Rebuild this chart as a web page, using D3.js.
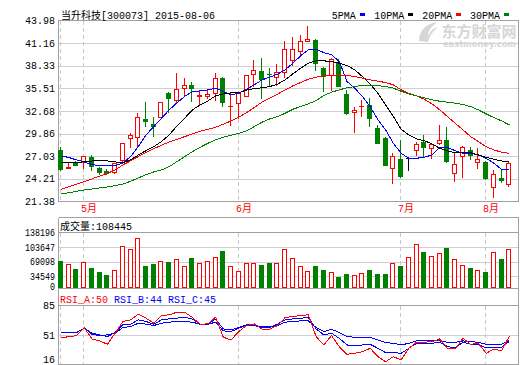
<!DOCTYPE html>
<html>
<head>
<meta charset="utf-8">
<script src="https://cdn.jsdelivr.net/npm/d3@7"></script>
<style>
  body { margin: 0; background: #fff; }
  svg { display: block; }
  text { font-family: "Liberation Mono", "Noto Sans CJK SC", monospace; font-size: 10px; }
  line, rect, path.ln { shape-rendering: crispEdges; }
</style>
</head>
<body>
<div id="chart"></div>
<script>
// trading days shown (300073, up to 2015-08-06)
const dates = [
  "2015-04-28","2015-04-29","2015-04-30",
  "2015-05-04","2015-05-05","2015-05-06","2015-05-07","2015-05-08",
  "2015-05-11","2015-05-12","2015-05-13","2015-05-14","2015-05-15",
  "2015-05-18","2015-05-19","2015-05-20","2015-05-21","2015-05-22",
  "2015-05-25","2015-05-26","2015-05-27","2015-05-28","2015-05-29",
  "2015-06-01","2015-06-02","2015-06-03","2015-06-04","2015-06-05",
  "2015-06-08","2015-06-09","2015-06-10","2015-06-11","2015-06-12",
  "2015-06-15","2015-06-16","2015-06-17","2015-06-18","2015-06-19",
  "2015-06-23","2015-06-24","2015-06-25","2015-06-26","2015-06-29","2015-06-30",
  "2015-07-01","2015-07-02","2015-07-03","2015-07-06","2015-07-07",
  "2015-07-24","2015-07-27","2015-07-28","2015-07-29","2015-07-30","2015-07-31",
  "2015-08-03","2015-08-04","2015-08-05","2015-08-06"
];
const open = [27.82,25.62,26.28,26.36,26.98,25.57,25.16,25.07,26.57,29.28,
  29.40,31.66,31.07,31.98,34.90,34.07,35.61,35.94,34.60,34.60,
  34.90,36.78,33.30,33.65,34.57,37.28,37.69,37.30,36.90,37.53,
  39.07,40.23,41.48,41.57,38.03,37.19,38.65,34.82,32.53,33.30,
  33.44,30.53,29.36,25.53,26.65,26.85,27.82,28.86,28.03,28.65,
  29.07,24.90,27.07,27.82,26.28,26.36,23.23,24.32,23.53];
const high = [28.23,26.25,26.40,27.10,27.23,25.73,25.48,26.23,28.70,29.90,
  32.40,33.86,31.91,33.80,35.10,37.40,36.78,36.35,35.30,35.40,
  37.40,36.98,35.11,34.95,37.20,39.07,39.36,38.03,38.57,41.48,
  41.90,42.11,43.32,41.65,38.23,39.28,39.15,35.32,33.15,34.07,
  34.28,30.94,29.48,27.40,29.07,26.85,28.86,29.69,28.73,30.94,
  30.73,27.40,28.32,28.23,28.11,26.40,25.32,25.32,26.36];
const low = [25.32,25.58,25.90,25.53,25.36,24.82,24.78,24.98,26.36,28.23,
  28.32,30.82,29.61,31.95,32.61,33.86,34.69,33.90,33.44,34.36,
  34.07,33.32,30.94,31.78,34.50,35.82,34.28,35.94,35.94,36.98,
  38.44,39.69,41.40,37.82,35.23,35.32,35.82,32.32,30.10,32.11,
  30.82,28.70,25.90,23.65,24.48,25.32,27.19,27.07,26.85,28.57,
  26.36,23.98,24.48,26.65,25.61,24.23,21.90,23.78,23.36];
const close = [25.44,25.66,25.98,27.07,25.82,25.07,24.90,26.16,28.66,29.69,
  31.98,31.41,30.82,33.78,34.36,35.44,35.90,35.53,34.70,34.75,
  36.78,33.86,33.34,34.90,37.19,37.82,36.69,37.26,37.60,40.40,
  40.40,41.36,41.65,38.65,37.11,39.15,35.86,32.48,32.82,33.36,
  31.78,28.73,25.94,27.07,24.57,26.85,28.53,28.23,28.53,29.07,
  26.48,26.07,28.15,27.19,26.69,24.28,24.82,24.07,26.23];
const volume = [70630,62830,51730,67560,54090,44640,37560,48660,105350,98970,
  124250,58820,63540,71330,68260,74640,58110,77710,65190,71330,
  79370,94250,58110,46300,65190,65190,61180,65900,65190,98260,
  77000,58820,46300,58820,49370,43930,33540,39920,37560,41570,
  49370,39920,39920,65190,58820,80070,110070,91880,82430,88810,
  101330,74640,60470,54090,48660,44640,91170,75350,98260];
const lastVolume = 108445;

const ma5 = [27.07,26.88,26.57,26.32,26.00,25.86,25.86,25.86,26.19,26.98,
  28.23,29.69,30.73,31.78,32.82,33.70,34.50,35.11,35.19,35.32,
  35.53,35.11,34.69,34.90,35.40,35.94,36.57,36.90,37.28,37.82,
  38.65,39.57,40.32,40.40,39.98,39.69,38.86,36.36,35.53,34.48,
  33.23,31.57,30.32,28.65,27.40,26.78,26.78,26.90,27.19,28.15,
  28.11,27.73,27.40,27.40,27.19,26.78,26.15,25.40,25.32];
const ma10 = [26.28,26.28,26.28,26.32,26.44,26.48,26.44,26.32,26.23,26.57,
  27.19,27.73,28.23,28.86,29.69,30.82,31.78,32.82,33.44,33.94,
  34.57,34.82,34.94,34.98,35.28,35.48,35.57,35.73,36.03,36.57,
  37.32,38.03,38.65,38.94,38.94,38.86,38.65,38.36,37.82,36.98,
  36.03,34.90,33.44,31.98,30.40,29.69,29.19,28.98,28.57,28.03,
  27.69,27.48,27.48,27.48,27.19,26.90,26.65,26.44,26.36];
const ma20 = [22.90,23.23,23.53,23.86,24.20,24.55,24.90,25.30,25.95,26.45,
  27.00,27.48,27.98,28.40,28.82,29.15,29.48,29.82,30.15,30.40,
  30.65,31.03,31.44,31.90,32.48,33.11,33.78,34.28,34.78,35.32,
  35.82,36.23,36.65,36.90,37.07,37.15,37.19,37.11,36.98,36.78,
  36.57,36.40,36.23,35.94,35.32,34.90,34.57,34.15,33.57,32.82,
  31.98,31.15,30.32,29.48,28.86,28.23,27.82,27.53,27.40];
const ma30 = [22.32,22.48,22.65,22.82,22.94,23.07,23.19,23.36,23.57,23.90,
  24.32,24.73,25.07,25.32,25.73,26.36,26.98,27.61,28.15,28.65,
  29.07,29.40,29.65,29.90,30.19,30.73,31.28,31.69,31.98,32.40,
  32.90,33.23,33.57,33.98,34.61,35.03,35.32,35.57,35.73,35.90,
  35.90,35.86,35.73,35.53,35.15,34.82,34.57,34.32,34.07,33.90,
  33.78,33.65,33.48,33.23,32.82,32.32,31.86,31.44,30.94];

const rsiA = [48.67,49.05,50.58,59.77,46.75,44.45,40.63,53.26,66.66,68.57,
  75.08,70.49,64.74,73.55,74.32,77.38,77.38,71.26,63.60,63.98,
  71.64,48.67,45.60,55.18,62.07,63.98,57.86,57.86,62.07,71.26,
  72.41,73.55,74.32,49.43,39.86,50.58,37.94,29.14,30.29,32.20,
  36.03,26.46,20.71,26.46,22.63,36.03,42.92,42.92,43.69,46.75,
  36.03,35.26,47.52,40.63,41.77,30.29,35.26,32.96,50];
const rsiB = [54.41,54.41,54.02,59.00,53.26,51.35,49.43,54.02,62.83,63.60,
  68.57,66.66,63.60,68.57,69.72,70.49,71.64,69.34,63.60,63.60,
  69.34,58.24,57.09,59.77,62.83,62.83,59.77,59.77,63.60,68.57,
  69.72,70.49,71.26,58.24,51.35,53.26,47.52,39.86,38.71,39.86,
  40.63,36.03,31.05,31.05,30.29,36.03,41.77,41.77,41.77,42.92,
  37.94,36.79,42.92,40.63,39.86,36.79,36.79,37.17,44];
const rsiC = [54.41,54.41,54.41,59.00,52.11,50.58,51.35,53.26,59.77,60.92,
  64.74,63.60,62.07,64.74,65.90,66.66,66.66,65.90,63.60,63.60,
  65.90,55.94,55.18,59.00,62.07,61.69,60.92,60.92,62.07,65.90,
  66.66,67.43,67.43,59.77,55.18,57.86,54.03,49.43,48.67,48.67,
  48.67,45.60,42.54,41.77,39.86,41.77,44.45,44.45,44.45,44.45,
  42.92,42.92,44.45,43.69,42.92,40.63,40.63,40.63,45];

const priceTicks = [43.98, 41.16, 38.33, 35.51, 32.68, 29.86, 27.03, 24.21, 21.38];
const volTicks = [138196, 103647, 69098, 34549, 0];
const rsiTicks = [85, 51, 16];

const maNames = ["5PMA", "10PMA", "20PMA", "30PMA"];
const maColors = ["#0000ff", "#000000", "#ff0000", "#008000"];
const RED = "#ff0000", GREEN = "#008000", BLUE = "#0000ff";
const BORDER = "#a0a0a0", GRID = "#cfcfcf";

// layout
const W = 520, H = 365;
const left = 58.5, right = 518.5;
const mainTop = 20.5, mainBottom = 201.5;
const volTop = 217.5, volGridTop = 232.5, volBottom = 288.5;
const rsiTop = 305.5, rsiBottom = 364.5;

const svg = d3.select("#chart").append("svg")
  .attr("width", W).attr("height", H);

const x = d3.scaleBand().domain(dates)
  .range([57.13, 513.2]).paddingInner(0.3).paddingOuter(0.15);
const cx = d => Math.round(x(d) + x.bandwidth() / 2);

const y = d3.scaleLinear().domain([21.38, 43.98]).range([mainBottom, mainTop]);
const yv = d3.scaleLinear().domain([0, 138196]).range([290.9, volGridTop]);
const yr = d3.scaleLinear().domain([16, 85]).range([365.8, rsiTop]);
const px = v => Math.round(v) + 0.5;

// month separators
const monthStarts = dates.map((d, i) => ({ d, i }))
  .filter(o => o.i === 0 || o.d.slice(5, 7) !== dates[o.i - 1].slice(5, 7));

const grid = svg.append("g");

// horizontal grid lines
grid.selectAll(".pg").data(priceTicks.slice(1, -1)).enter().append("line")
  .attr("x1", left).attr("x2", right)
  .attr("y1", d => px(y(d))).attr("y2", d => px(y(d)))
  .attr("stroke", GRID);
grid.selectAll(".vg").data(volTicks.slice(1, -1)).enter().append("line")
  .attr("x1", left).attr("x2", right)
  .attr("y1", d => px(yv(d))).attr("y2", d => px(yv(d)))
  .attr("stroke", GRID);
grid.append("line").attr("x1", left).attr("x2", right)
  .attr("y1", px(yr(51))).attr("y2", px(yr(51))).attr("stroke", GRID);

// dashed month lines
[[mainTop, mainBottom], [volGridTop, volBottom], [rsiTop, rsiBottom]].forEach(([a, b]) => {
  grid.selectAll(null).data(monthStarts).enter().append("line")
    .attr("x1", d => cx(d.d) - 0.5).attr("x2", d => cx(d.d) - 0.5)
    .attr("y1", a).attr("y2", b)
    .attr("stroke", "#c8c8c8").attr("stroke-dasharray", "4,3");
});

// watermark
const wm = svg.append("g").attr("fill", "#d6d6d6");
wm.append("path")
  .attr("d", "M419,41 C419,31 426,23 438,22 C431,26 428,31 428,36 C431,30 434,28 438,27 C432,32 429,37 428,42 Z");
wm.append("text").attr("x", 441.5).attr("y", 37)
  .attr("textLength", 75).attr("lengthAdjust", "spacingAndGlyphs")
  .style("font-family", "'Noto Sans CJK SC'").style("font-size", "15px").style("font-weight", "bold")
  .text("东方财富网");
wm.append("text").attr("x", 443).attr("y", 46.5)
  .attr("textLength", 73).attr("lengthAdjust", "spacingAndGlyphs")
  .style("font-family", "'DejaVu Sans'").style("font-size", "8px").style("font-weight", "bold")
  .text("eastmoney.com");

// borders
const border = svg.append("g").attr("stroke", BORDER).attr("fill", "none");
border.append("rect").attr("x", left).attr("y", mainTop)
  .attr("width", right - left).attr("height", mainBottom - mainTop);
border.append("path").attr("class", "ln")
  .attr("d", `M${left},${volTop}H${right}M${left},${volGridTop}H${right}M${left},${volBottom}H${right}` +
    `M${left},${rsiTop}H${right}M${left},${rsiBottom}H${right}` +
    `M${left},${volTop}V${rsiBottom}M${right},${volTop}V${rsiBottom}`);

// candles
const cols = dates.map((d, i) => close[i] > open[i] ? RED : close[i] < open[i] ? GREEN : "#000000");
const candles = svg.append("g").selectAll("g").data(dates).enter().append("g");
candles.append("line")
  .attr("x1", d => cx(d) - 0.5).attr("x2", d => cx(d) - 0.5)
  .attr("y1", (d, i) => px(y(high[i])) - 0.5).attr("y2", (d, i) => px(y(low[i])) + 0.5)
  .attr("stroke", (d, i) => cols[i]);
candles.each(function (d, i) {
  const g = d3.select(this);
  const yo = px(y(open[i])), yc = px(y(close[i]));
  const top = Math.min(yo, yc), h = Math.abs(yo - yc);
  if (h < 1) {
    g.append("line").attr("x1", cx(d) - 3).attr("x2", cx(d) + 2)
      .attr("y1", top).attr("y2", top).attr("stroke", cols[i]);
  } else {
    g.append("rect").attr("x", cx(d) - 2.5).attr("y", top)
      .attr("width", 4).attr("height", h)
      .attr("fill", cols[i] === RED ? "#fff" : cols[i])
      .attr("stroke", cols[i]);
  }
});

// moving averages
const line = d3.line().x((v, i) => x(dates[i]) + x.bandwidth() / 2);
[ma5, ma10, ma20, ma30].forEach((s, k) => {
  svg.append("path").datum(s).attr("class", "ln")
    .attr("d", line.y(v => y(v)))
    .attr("fill", "none").attr("stroke", maColors[k]).attr("stroke-width", 1);
});

// volume bars
svg.append("g").selectAll("rect").data(dates).enter().append("rect")
  .attr("x", d => cx(d) - 2.5)
  .attr("y", (d, i) => px(yv(volume[i])))
  .attr("width", 4)
  .attr("height", (d, i) => volBottom - 1 - px(yv(volume[i])))
  .attr("fill", (d, i) => close[i] >= open[i] ? "#fff" : GREEN)
  .attr("stroke", (d, i) => close[i] >= open[i] ? RED : GREEN);

// RSI lines
[[rsiC, BLUE], [rsiB, BLUE], [rsiA, RED]].forEach(([s, c]) => {
  svg.append("path").datum(s).attr("class", "ln")
    .attr("d", line.y(v => yr(v)))
    .attr("fill", "none").attr("stroke", c).attr("stroke-width", 1);
});

// axis labels
const labels = svg.append("g").attr("text-anchor", "end").attr("fill", "#000");
labels.selectAll(".pl").data(priceTicks).enter().append("text")
  .attr("x", 55).attr("y", d => y(d) + 1).attr("dominant-baseline", "middle")
  .text(d => d.toFixed(2));
labels.selectAll(".vl").data(volTicks).enter().append("text")
  .attr("x", 55).attr("y", d => Math.min(yv(d), 286.5) + 1).attr("dominant-baseline", "middle")
  .attr("textLength", d => String(d).length * 5).attr("lengthAdjust", "spacingAndGlyphs")
  .text(d => d);
labels.selectAll(".rl").data(rsiTicks).enter().append("text")
  .attr("x", 55).attr("y", d => Math.min(yr(d), 359.5) + 1).attr("dominant-baseline", "middle")
  .text(d => d);

// month labels
svg.append("g").selectAll("text").data(monthStarts.filter(o => o.i > 0)).enter().append("text")
  .attr("x", d => cx(d.d) - 3).attr("y", 212)
  .attr("fill", RED)
  .text(d => `${+d.d.slice(5, 7)}月`);

// titles
svg.append("text").attr("x", 61).attr("y", 18.5)
  .text(`当升科技[300073] ${dates[dates.length - 1]}`);
svg.append("text").attr("x", 60).attr("y", 230)
  .text(`成交量:${lastVolume}`);
const rsiTitle = svg.append("text").attr("x", 60).attr("y", 302.5);
[["RSI_A", rsiA, RED], ["RSI_B", rsiB, BLUE], ["RSI_C", rsiC, BLUE]].forEach(([n, s, c], k) => {
  rsiTitle.append("tspan").attr("fill", c).attr("dx", k ? 6 : 0)
    .text(`${n}:${Math.round(s[s.length - 1])}`);
});

// legend
const legendX = [331.7, 374.3, 422.3, 470];
maNames.forEach((n, k) => {
  const t = svg.append("text").attr("x", legendX[k]).attr("y", 18.5).text(n);
  const w = t.node().getComputedTextLength();
  svg.append("rect").attr("x", legendX[k] + w + 4).attr("y", 12.5)
    .attr("width", 5).attr("height", 3).attr("fill", maColors[k]);
});
</script>
</body>
</html>
